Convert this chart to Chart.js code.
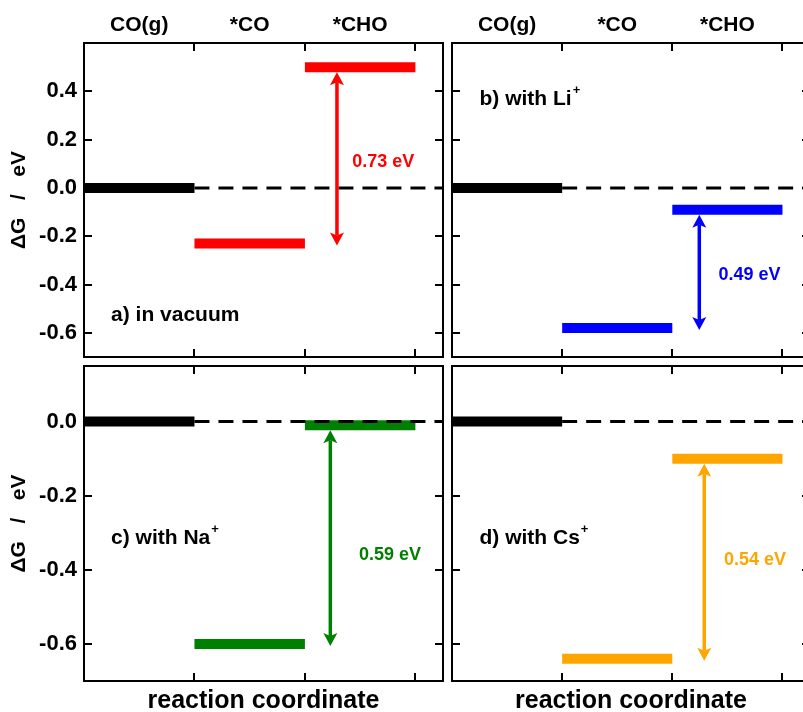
<!DOCTYPE html>
<html>
<head>
<meta charset="utf-8">
<script src="https://cdn.jsdelivr.net/npm/chart.js@4/dist/chart.umd.min.js"></script>
<style>
  html, body { margin: 0; padding: 0; background: #fff; }
  #wrap { position: relative; width: 803px; height: 712px; overflow: hidden; background: #fff; }
  #wrap canvas { position: absolute; left: 0; top: 0; }
</style>
</head>
<body>
<div id="wrap">
  <canvas id="pa" width="820" height="712"></canvas>
  <canvas id="pb" width="820" height="712"></canvas>
  <canvas id="pc" width="820" height="712"></canvas>
  <canvas id="pd" width="820" height="712"></canvas>
</div>
<script>
// Reaction steps along the coordinate
const steps = ['CO(g)', '*CO', '*CHO'];

// Free energy of each step, eV (CO(g), *CO, *CHO)
const vacuum = [0.00, -0.23, 0.50];
const withLi = [0.00, -0.58, -0.09];
const withNa = [0.00, -0.60, -0.01];
const withCs = [0.00, -0.64, -0.10];

// Axis ticks
const yTicksUpper = [0.4, 0.2, 0.0, -0.2, -0.4, -0.6];
const yTicksLower = [0.0, -0.2, -0.4, -0.6];
const xTicks = [1, 2, 3];
const stepCenters = [0.5, 1.5, 2.5];

const FONT = "'Liberation Sans', Arial, Helvetica, sans-serif";
const W = 820, H = 712;
const X_MAX = 3.25;
const colBox = [{ left: 84, right: 443 }, { left: 452, right: 810 }];
const rowBox = [{ top: 43, bottom: 357 }, { top: 366, bottom: 681 }];

const panels = [
  { id: 'pa', levels: vacuum, color: '#ff0000', tag: 'a) in vacuum', sup: '',
    row: 0, col: 0, yMin: -0.7, yMax: 0.6, yTicks: yTicksUpper,
    tagAt: [0.245, -0.525], arrowX: 2.29, noteAt: [2.71, 0.106] },
  { id: 'pb', levels: withLi, color: '#0000ff', tag: 'b) with Li', sup: '+',
    row: 0, col: 1, yMin: -0.7, yMax: 0.6, yTicks: yTicksUpper,
    tagAt: [0.25, 0.366], arrowX: 2.245, noteAt: [2.70, -0.359] },
  { id: 'pc', levels: withNa, color: '#008000', tag: 'c) with Na', sup: '+',
    row: 1, col: 0, yMin: -0.7, yMax: 0.15, yTicks: yTicksLower,
    tagAt: [0.245, -0.316], arrowX: 2.23, noteAt: [2.77, -0.359] },
  { id: 'pd', levels: withCs, color: '#ffa500', tag: 'd) with Cs', sup: '+',
    row: 1, col: 1, yMin: -0.7, yMax: 0.15, yTicks: yTicksLower,
    tagAt: [0.25, -0.316], arrowX: 2.29, noteAt: [2.75, -0.373] }
];

// Double-headed arrow with notched heads
function drawArrow(ctx, x, yTop, yBot, color) {
  const hl = 13, hw = 7, notch = 3;
  ctx.strokeStyle = color;
  ctx.fillStyle = color;
  ctx.lineWidth = 3.5;
  ctx.beginPath();
  ctx.moveTo(x, yTop + hl - notch);
  ctx.lineTo(x, yBot - hl + notch);
  ctx.stroke();
  ctx.beginPath();
  ctx.moveTo(x, yTop);
  ctx.lineTo(x + hw, yTop + hl);
  ctx.lineTo(x, yTop + hl - notch);
  ctx.lineTo(x - hw, yTop + hl);
  ctx.closePath();
  ctx.fill();
  ctx.beginPath();
  ctx.moveTo(x, yBot);
  ctx.lineTo(x + hw, yBot - hl);
  ctx.lineTo(x, yBot - hl + notch);
  ctx.lineTo(x - hw, yBot - hl);
  ctx.closePath();
  ctx.fill();
}

function makeChart(p) {
  const box = Object.assign({}, colBox[p.col], rowBox[p.row]);
  const showY = p.col === 0;
  const showTop = p.row === 0;
  const showBottom = p.row === 1;
  const BAR = 10;

  const datasets = [];
  // dashed zero reference from the end of the CO(g) level to the right edge
  datasets.push({
    data: [{ x: 1, y: 0 }, { x: X_MAX, y: 0 }],
    borderColor: '#000', borderWidth: 3, borderDash: [15, 9],
    pointRadius: 0, fill: false, order: 0
  });
  // one horizontal level per reaction step
  p.levels.forEach((v, i) => {
    datasets.push({
      data: [{ x: i, y: v }, { x: i + 1, y: v }],
      borderColor: i === 0 ? '#000' : p.color, borderWidth: BAR,
      borderCapStyle: 'butt', pointRadius: 0, fill: false, order: 1
    });
  });

  const decor = {
    id: 'decor',
    afterDatasetsDraw(chart) {
      const { ctx, chartArea: a, scales } = chart;
      const xs = scales.x, ys = scales.y;
      ctx.save();

      // frame with inward ticks on all four sides
      ctx.strokeStyle = '#000';
      ctx.lineWidth = 2;
      ctx.strokeRect(a.left, a.top, a.right - a.left, a.bottom - a.top);
      const L = 8;
      ctx.beginPath();
      xTicks.forEach(v => {
        const px = Math.round(xs.getPixelForValue(v));
        ctx.moveTo(px, a.top); ctx.lineTo(px, a.top + L);
        ctx.moveTo(px, a.bottom); ctx.lineTo(px, a.bottom - L);
      });
      p.yTicks.forEach(v => {
        const py = Math.round(ys.getPixelForValue(v));
        ctx.moveTo(a.left, py); ctx.lineTo(a.left + L, py);
        ctx.moveTo(a.right, py); ctx.lineTo(a.right - L, py);
      });
      ctx.stroke();

      // barrier arrow between *CO and *CHO
      const co = p.levels[1], cho = p.levels[2];
      const ax = xs.getPixelForValue(p.arrowX);
      const yHi = ys.getPixelForValue(Math.max(co, cho)) + BAR / 2;
      const yLo = ys.getPixelForValue(Math.min(co, cho)) + 2;
      drawArrow(ctx, ax, yHi, yLo, p.color);

      // barrier value
      ctx.fillStyle = p.color;
      ctx.font = 'bold 18px ' + FONT;
      ctx.textAlign = 'center';
      ctx.textBaseline = 'middle';
      ctx.fillText((cho - co).toFixed(2) + ' eV',
        xs.getPixelForValue(p.noteAt[0]), ys.getPixelForValue(p.noteAt[1]));

      // panel tag
      const tx = xs.getPixelForValue(p.tagAt[0]);
      const ty = ys.getPixelForValue(p.tagAt[1]);
      ctx.fillStyle = '#000';
      ctx.font = 'bold 21px ' + FONT;
      ctx.textAlign = 'left';
      ctx.fillText(p.tag, tx, ty);
      if (p.sup) {
        const w = ctx.measureText(p.tag).width;
        ctx.font = 'bold 13px ' + FONT;
        ctx.fillText(p.sup, tx + w + 1, ty - 9);
      }
      ctx.restore();
    }
  };

  return new Chart(document.getElementById(p.id), {
    type: 'line',
    data: { datasets },
    options: {
      responsive: false,
      animation: false,
      devicePixelRatio: 1,
      events: [],
      layout: { padding: { left: 0, right: W - box.right, top: 0, bottom: 0 } },
      plugins: { legend: { display: false }, tooltip: { enabled: false } },
      scales: {
        x: {
          type: 'linear', position: 'bottom', min: 0, max: X_MAX,
          display: showBottom,
          grid: { display: false, drawTicks: false },
          border: { display: false },
          ticks: { display: false },
          title: {
            display: true, text: 'reaction coordinate', color: '#000',
            font: { family: FONT, size: 25, weight: 'bold' },
            padding: { top: 0, bottom: -4 }
          },
          afterFit: s => { s.height = H - box.bottom; }
        },
        xTop: {
          type: 'linear', position: 'top', min: 0, max: X_MAX,
          display: showTop,
          grid: { display: false, drawTicks: false },
          border: { display: false },
          afterBuildTicks: s => { s.ticks = stepCenters.map(v => ({ value: v })); },
          ticks: {
            autoSkip: false, maxRotation: 0, padding: 5, color: '#000',
            font: { family: FONT, size: 21, weight: 'bold' },
            callback: (v, i) => steps[i]
          },
          afterFit: s => { s.height = box.top; }
        },
        y: {
          type: 'linear', position: 'left', min: p.yMin, max: p.yMax,
          display: showY,
          grid: { display: false, drawTicks: false },
          border: { display: false },
          afterBuildTicks: s => { s.ticks = p.yTicks.map(v => ({ value: v })); },
          ticks: {
            padding: 7, color: '#000',
            font: { family: FONT, size: 22, weight: 'bold' },
            callback: v => v.toFixed(1)
          },
          title: {
            display: true, text: '\u0394G   /   eV', color: '#000',
            font: { family: FONT, size: 21, weight: 'bold' },
            padding: { top: 7, bottom: 0 }
          },
          afterFit: s => { s.width = box.left; }
        }
      }
    },
    plugins: [decor]
  });
}

panels.forEach(makeChart);
</script>
</body>
</html>
